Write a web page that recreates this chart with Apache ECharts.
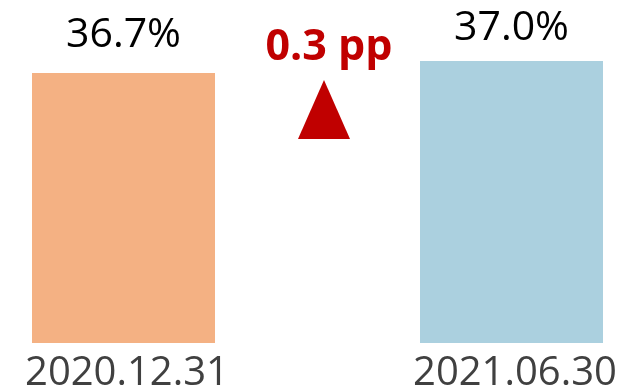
<!DOCTYPE html>
<html>
<head>
<meta charset="utf-8">
<script src="https://cdn.jsdelivr.net/npm/echarts@6/dist/echarts.min.js"></script>
<style>
  html, body { margin: 0; padding: 0; background: #fff; }
  #chart { width: 623px; height: 389px; }
</style>
</head>
<body>
<div id="chart"></div>
<script>
// Period-end dates and the ratio at each date (%)
const categories = ['2020.12.31', '2021.06.30'];
const ratios = [36.7, 37.0];
const barColors = ['#F4B183', '#ABD0DF'];

const change = (ratios[1] - ratios[0]).toFixed(1) + ' pp';
const labelGaps = [17, 12];

const chart = echarts.init(document.getElementById('chart'), null, { renderer: 'canvas' });

chart.setOption({
  animation: false,
  // plot area is wider than the canvas so the two bands sit far apart
  grid: {
    left: -70.5, right: -82.5, top: 61, bottom: 46,
    outerBoundsMode: 'none',
    containLabel: false
  },
  xAxis: {
    type: 'category',
    data: categories,
    axisLine: { show: false },
    axisTick: { show: false },
    axisLabel: {
      margin: 11,
      padding: [0, 0, 0, 7],
      fontFamily: 'Open Sans',
      fontSize: 40,
      color: '#404040'
    }
  },
  yAxis: {
    type: 'value',
    min: 30,
    max: 37,
    show: false,
    splitLine: { show: false }
  },
  series: [{
    type: 'bar',
    barWidth: 183,
    data: ratios.map((v, i) => ({
      value: v,
      itemStyle: { color: barColors[i] },
      label: { distance: labelGaps[i] }
    })),
    label: {
      show: true,
      position: 'top',
      fontFamily: 'Open Sans',
      fontSize: 41,
      color: '#000',
      formatter: p => p.value.toFixed(1) + '%'
    }
  }],
  graphic: [
    {
      type: 'polygon',
      shape: { points: [[324, 80], [298, 139], [350, 139]] },
      style: { fill: '#C00000' }
    },
    {
      type: 'text',
      x: 329,
      y: 48,
      style: {
        text: change,
        fontFamily: 'Open Sans',
        fontWeight: 'bold',
        fontSize: 43,
        fill: '#C00000',
        textAlign: 'center',
        textVerticalAlign: 'middle'
      }
    }
  ]
});
</script>
</body>
</html>
